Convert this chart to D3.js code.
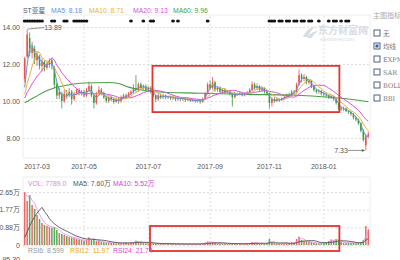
<!DOCTYPE html>
<html>
<head>
<meta charset="utf-8">
<script src="https://cdn.jsdelivr.net/npm/d3@7"></script>
<style>
body { margin: 0; background: #fff; }
svg text { font-family: "Liberation Sans", Arial, "Noto Sans CJK SC", sans-serif; }
</style>
</head>
<body>
<svg id="chart" width="400" height="260"></svg>
<script>

// candles (each one covers ~1.7 trading days): [open, high, low, close]
let candles = [
    [11.2,12.4,11.0,12.3],[12.4,13.89,12.3,13.6],[13.4,13.7,12.4,12.6],[12.6,13.2,12.3,12.9],
    [12.8,13.0,12.0,12.2],[12.2,12.7,11.9,12.5],[12.4,12.5,11.7,11.9],[11.9,12.3,11.6,12.1],
    [12.1,12.2,11.6,11.8],[11.8,12.2,11.7,12.0],[12.0,12.3,11.8,12.2],[12.2,12.3,11.7,11.9],
    [11.8,11.9,10.7,10.9],[10.9,11.0,10.1,10.3],[10.3,10.7,10.1,10.5],[10.4,10.5,9.6,10.0],
    [10.0,10.6,9.9,10.4],[10.4,10.6,10.1,10.3],[10.3,10.7,10.2,10.5],[10.5,10.6,9.8,10.1],
    [10.1,10.5,10.0,10.4],[10.4,10.7,10.3,10.6],[10.6,10.7,10.3,10.4],[10.4,10.6,10.3,10.5],
    [10.5,10.6,10.2,10.3],[10.3,10.7,10.2,10.6],[10.6,11.05,10.5,10.8],[10.8,10.9,10.2,10.3],
    [10.3,10.4,9.6,9.9],[9.9,10.5,9.8,10.4],[10.4,10.8,10.3,10.6],[10.6,10.7,10.3,10.4],
    [10.4,10.5,10.1,10.2],[10.2,10.3,9.9,10.0],[10.0,10.3,9.9,10.2],[10.2,10.3,10.0,10.1],
    [10.1,10.2,9.85,9.95],[9.95,10.2,9.9,10.1],[10.1,10.2,9.85,10.0],[10.0,10.3,9.9,10.2],
    [10.2,10.4,10.1,10.3],[10.3,10.4,10.1,10.2],[10.2,10.5,10.2,10.4],[10.4,10.6,10.3,10.5],
    [10.5,10.9,10.4,10.7],[10.7,11.4,10.5,10.6],[10.6,11.0,10.5,10.9],[10.9,11.0,10.6,10.7],
    [10.7,10.9,10.6,10.8],[10.8,10.9,10.5,10.6],[10.6,10.8,10.5,10.7],[10.7,10.8,10.4,10.5],
    [10.5,10.6,10.2,10.3],[10.3,10.35,9.95,10.1],[10.1,10.4,10.0,10.3],[10.3,10.4,10.1,10.2],
    [10.2,10.4,10.1,10.3],[10.3,10.35,10.1,10.2],[10.2,10.3,10.1,10.25],[10.25,10.3,10.05,10.15],
    [10.15,10.3,10.05,10.2],[10.2,10.25,10.0,10.1],[10.1,10.25,10.0,10.15],[10.15,10.2,10.0,10.1],
    [10.1,10.2,10.0,10.15],[10.15,10.2,9.95,10.05],[10.05,10.2,10.0,10.1],[10.1,10.15,9.95,10.0],
    [10.0,10.1,9.95,10.05],[10.05,10.1,9.9,10.0],[10.0,10.1,9.9,10.05],[10.05,10.1,9.85,9.95],
    [9.95,10.2,9.9,10.1],[10.1,10.5,10.05,10.4],[10.4,11.0,10.35,10.9],[10.9,11.1,10.6,10.7],
    [10.7,11.3,10.6,11.0],[11.0,11.1,10.5,10.6],[10.6,10.8,10.5,10.7],[10.7,10.8,10.4,10.5],
    [10.5,10.7,10.4,10.6],[10.6,10.7,10.4,10.45],[10.45,10.6,10.4,10.5],[10.5,10.55,10.3,10.4],
    [10.4,10.45,9.7,10.2],[10.2,10.5,10.15,10.4],[10.4,10.45,10.3,10.35],[10.35,10.5,10.3,10.4],
    [10.4,10.45,10.25,10.3],[10.3,10.45,10.25,10.4],[10.4,10.55,10.35,10.45],[10.45,10.7,10.4,10.6],
    [10.6,11.05,10.55,10.9],[10.9,11.0,10.6,10.7],[10.7,10.95,10.6,10.8],[10.8,10.85,10.5,10.6],
    [10.6,10.8,10.5,10.7],[10.7,10.75,10.4,10.5],[10.5,10.55,10.3,10.4],[10.4,10.45,9.6,9.9],
    [9.9,10.2,9.7,10.1],[10.1,10.2,9.9,10.0],[10.0,10.2,9.95,10.1],[10.1,10.15,9.95,10.05],
    [10.05,10.2,10.0,10.15],[10.15,10.3,10.1,10.2],[10.2,10.4,10.15,10.35],[10.35,10.45,10.2,10.3],
    [10.3,10.6,10.25,10.5],[10.5,10.6,10.4,10.45],[10.45,11.0,10.4,10.9],[10.9,11.7,10.85,11.4],
    [11.4,11.5,11.0,11.2],[11.2,11.45,11.05,11.3],[11.3,11.35,10.9,11.0],[11.0,11.2,10.9,11.1],
    [11.1,11.15,10.7,10.8],[10.8,10.85,10.5,10.6],[10.6,10.65,10.4,10.5],[10.5,10.65,10.4,10.55],
    [10.55,10.6,10.3,10.4],[10.4,10.5,10.25,10.35],[10.35,10.45,10.2,10.3],[10.3,10.35,10.1,10.2],
    [10.2,10.3,10.1,10.25],[10.25,10.3,10.0,10.1],[10.1,10.15,9.8,9.9],[9.9,9.95,9.5,9.6],
    [9.6,9.7,9.45,9.55],[9.55,9.7,9.45,9.6],[9.6,9.65,9.4,9.45],[9.45,9.5,9.3,9.4],
    [9.4,9.45,9.2,9.3],[9.3,9.35,9.0,9.1],[9.1,9.2,8.9,9.0],[9.0,9.05,8.7,8.8],
    [8.8,8.85,8.3,8.4],[8.4,8.45,7.8,7.9],[7.6,8.2,7.33,8.1],[8.1,8.35,8.0,8.2]
]

// closes before the visible window (used to warm up the moving averages)
let preCloses = [9.9,9.95,10.0,9.9,9.95,10.0,10.05,10.0,9.95,9.9,10.0]

// volume in 万
let volumes = [
    2.65,2.2,2.5,2.0,1.8,1.5,1.3,1.1,1.0,0.95,0.9,0.85,
    0.9,0.75,0.6,0.55,0.5,0.45,0.4,0.38,0.35,0.3,0.28,0.25,
    0.22,0.25,0.38,0.25,0.3,0.2,0.2,0.15,0.14,0.12,0.12,0.1,
    0.1,0.09,0.1,0.09,0.1,0.12,0.1,0.12,0.15,0.22,0.15,0.12,
    0.1,0.09,0.08,0.08,0.07,0.08,0.07,0.06,0.06,0.07,0.06,0.06,
    0.05,0.06,0.05,0.05,0.06,0.05,0.05,0.06,0.05,0.05,0.06,0.05,
    0.07,0.12,0.18,0.12,0.15,0.1,0.08,0.07,0.07,0.06,0.06,0.06,
    0.1,0.07,0.06,0.06,0.05,0.06,0.07,0.1,0.15,0.1,0.08,0.07,
    0.07,0.06,0.08,0.3,0.12,0.08,0.07,0.06,0.07,0.08,0.1,0.09,
    0.12,0.1,0.3,0.42,0.25,0.2,0.18,0.15,0.14,0.1,0.09,0.08,
    0.08,0.1,0.15,0.2,0.28,0.22,0.3,0.25,0.15,0.12,0.1,0.12,
    0.1,0.12,0.1,0.12,0.15,0.25,0.95,0.78
]
let preVolumes = [0.05,0.05,0.04,0.05,0.05,0.04,0.05,0.05,0.05]

// MA60: [candle index, value]
let ma60Points = [[0,9.9],[4,10.2],[8,10.5],[12,10.7],[17,10.85],[24,10.97],[34,11.0],[38,10.95],
    [42,10.75],[47,10.6],[52,10.5],[71,10.42],[90,10.36],[112,10.3],[128,10.15],[139,9.96]]

let tickIdx = [5, 24, 50, 75, 99, 121]
let tickLabels = ["2017-03", "2017-05", "2017-07", "2017-09", "2017-11", "2018-01"]
let priceTicks = [8, 10, 12, 14]
let volTicks = [0, 0.88, 1.77, 2.65]

// event markers along the top (candle indices)
let eventIdx = [0,1,2,3,4,5,6,7,11,12,16,17,20,21,22,23,24,25,43,48,51,52,60,62,74,
    99,100,101,103,104,106,107,109,110,112,113,115,116,119,123,125,126,128,130,131]

let indicators = ["无", "均线", "EXPMA", "SAR", "BOLL", "BBI"]

let upColor = "#e8504a", downColor = "#3a9a3a"
let maColors = {ma5: "#6b8fdc", ma10: "#eab23c", ma20: "#e04ee0", ma60: "#48a048"}


// 5/10/20-day windows expressed in candles (~1.7 days per candle)
function movingAvg(values, pre, n) {
    let all = pre.concat(values)
    let out = []
    for(let i = pre.length; i < all.length; i++) {
        let start = Math.max(0, i - n + 1)
        let sum = 0
        for(let j = start; j <= i; j++) sum += all[j]
        out.push(sum / (i - start + 1))
    }
    return out
}

let svg = d3.select("#chart")
let left = 23, right = 370
let pTop = 15, pBottom = 158
let vTop = 177, vBottom = 247

let x = d3.scaleBand().domain(d3.range(candles.length)).range([left, right]).padding(0.38)
let cx = i => x(i) + x.bandwidth() / 2
let y = d3.scaleLinear().domain([8, 14]).range([138, 27])
let yv = d3.scaleLinear().domain([0, 2.65]).range([245, 192])

svg.append("defs").append("clipPath").attr("id", "clipMain")
    .append("rect").attr("x", left).attr("y", pTop).attr("width", right - left).attr("height", pBottom - pTop)

// panel frames
svg.append("rect").attr("x", left).attr("y", pTop).attr("width", right - left).attr("height", pBottom - pTop)
    .attr("fill", "none").attr("stroke", "#eeeeee")
svg.append("rect").attr("x", left).attr("y", vTop).attr("width", right - left).attr("height", vBottom - vTop)
    .attr("fill", "none").attr("stroke", "#eeeeee")

function styleGrid(g) {
    g.select(".domain").remove()
    g.selectAll(".tick line").attr("stroke", "#dedede").attr("stroke-dasharray", "2,2")
    g.selectAll(".tick text").attr("fill", "#555").attr("font-size", 7)
}

// price grid + labels
svg.append("g").attr("transform", "translate(" + left + ",0)")
    .call(d3.axisLeft(y).tickValues(priceTicks).tickSize(-(right - left)).tickPadding(3).tickFormat(d3.format(".2f")))
    .call(styleGrid)

// date grid + labels
svg.append("g").attr("transform", "translate(0," + pBottom + ")")
    .call(d3.axisBottom(x).tickValues(tickIdx).tickSize(-(pBottom - pTop)).tickPadding(6)
        .tickFormat((d, i) => tickLabels[i]))
    .call(styleGrid)
    .selectAll(".tick line").attr("opacity", (d, i) => i == 0 ? 0 : 1)

// volume grids
svg.append("g").attr("transform", "translate(" + left + ",0)")
    .call(d3.axisLeft(yv).tickValues(volTicks).tickSize(-(right - left)).tickPadding(3)
        .tickFormat(d => d == 0 ? "0" : d.toFixed(2) + "万"))
    .call(styleGrid)
svg.append("g").attr("transform", "translate(0," + vBottom + ")")
    .call(d3.axisBottom(x).tickValues(tickIdx.slice(1)).tickSize(-(vBottom - vTop)).tickFormat(""))
    .call(styleGrid)

// event markers
svg.append("g").selectAll("ellipse")
    .data(eventIdx).enter()
    .append("ellipse")
    .attr("cx", d => cx(d)).attr("cy", 21)
    .attr("rx", 1.9).attr("ry", 1.6)
    .attr("fill", "#111")

// candles
let main = svg.append("g").attr("clip-path", "url(#clipMain)")
let cg = main.selectAll("g.candle")
    .data(candles).enter()
    .append("g")
    .attr("class", "candle")
let colorOf = d => d[3] >= d[0] ? upColor : downColor
cg.append("line")
    .attr("x1", (d, i) => cx(i)).attr("x2", (d, i) => cx(i))
    .attr("y1", d => y(d[1])).attr("y2", d => y(d[2]))
    .attr("stroke", colorOf).attr("stroke-width", 0.8)
cg.append("rect")
    .attr("x", (d, i) => x(i)).attr("width", x.bandwidth())
    .attr("y", d => y(Math.max(d[0], d[3])))
    .attr("height", d => Math.max(0.8, Math.abs(y(d[0]) - y(d[3]))))
    .attr("fill", colorOf)

// moving averages
let closes = candles.map(d => d[3])
let line = d3.line().x((d, i) => cx(i)).y(d => y(d))
let maSeries = [
    [movingAvg(closes, preCloses, 12), maColors.ma20],
    [movingAvg(closes, preCloses, 6), maColors.ma10],
    [movingAvg(closes, preCloses, 3), maColors.ma5]
]
main.append("path")
    .datum(ma60Points)
    .attr("d", d3.line().x(d => cx(d[0])).y(d => y(d[1])).curve(d3.curveMonotoneX))
    .attr("fill", "none").attr("stroke", maColors.ma60).attr("stroke-width", 1.1)
for(let s of maSeries) {
    main.append("path").datum(s[0]).attr("d", line)
        .attr("fill", "none").attr("stroke", s[1]).attr("stroke-width", 1)
}

// high / low labels
let hiIdx = d3.maxIndex(candles, d => d[1])
let loIdx = d3.minIndex(candles, d => d[2])
let hi = candles[hiIdx][1], lo = candles[loIdx][2]
svg.append("line").attr("x1", cx(hiIdx) + 1).attr("x2", cx(hiIdx) + 17)
    .attr("y1", y(hi)).attr("y2", y(hi) - 1.5).attr("stroke", "#666").attr("stroke-width", 0.7)
svg.append("text").attr("x", cx(hiIdx) + 17).attr("y", y(hi) + 1)
    .attr("font-size", 7).attr("fill", "#555").text(hi.toFixed(2))
svg.append("line").attr("x1", cx(loIdx) - 18).attr("x2", cx(loIdx) - 1)
    .attr("y1", y(lo)).attr("y2", y(lo)).attr("stroke", "#666").attr("stroke-width", 0.7)
svg.append("path")
    .attr("d", "M" + (cx(loIdx) - 1) + "," + y(lo) + "l-3,-1.5l0,3z").attr("fill", "#666")
svg.append("text").attr("x", cx(loIdx) - 18).attr("y", y(lo) + 2.5).attr("text-anchor", "end")
    .attr("font-size", 7).attr("fill", "#555").text(lo.toFixed(2))

// volume bars
svg.append("g").selectAll("rect")
    .data(volumes).enter()
    .append("rect")
    .attr("x", (d, i) => x(i)).attr("width", x.bandwidth())
    .attr("y", d => yv(d)).attr("height", d => yv(0) - yv(d))
    .attr("fill", (d, i) => colorOf(candles[i]))
    .attr("opacity", 0.85)
let vline = d3.line().x((d, i) => cx(i)).y(d => yv(d))
svg.append("path").datum(movingAvg(volumes, [], 3)).attr("d", vline)
    .attr("fill", "none").attr("stroke", "#f08cf0").attr("stroke-width", 0.9)
svg.append("path").datum(movingAvg(volumes, preVolumes, 8)).attr("d", vline)
    .attr("fill", "none").attr("stroke", "#555").attr("stroke-width", 0.9)

// red highlight boxes
svg.append("rect")
    .attr("x", x(52)).attr("y", y(11.9))
    .attr("width", x(127) + x.bandwidth() - x(52)).attr("height", y(9.4) - y(11.9))
    .attr("fill", "none").attr("stroke", "#e3342f").attr("stroke-width", 1.8)
svg.append("rect")
    .attr("x", x(51)).attr("y", yv(0.95))
    .attr("width", x(127) + x.bandwidth() - x(51)).attr("height", yv(-0.3) - yv(0.95))
    .attr("fill", "none").attr("stroke", "#e3342f").attr("stroke-width", 1.8)

// legends
function legend(items, yPos) {
    let t = svg.append("text").attr("y", yPos).attr("font-size", 6.8)
    for(let it of items) {
        t.append("tspan").attr("x", it[0]).attr("fill", it[2]).text(it[1])
    }
}
legend([[23, "ST亚星", "#555"], [51, "MA5: 8.18", maColors.ma5], [89, "MA10: 8.71", maColors.ma10],
    [133, "MA20: 9.13", maColors.ma20], [173, "MA60: 9.96", maColors.ma60]], 12.5)
legend([[28, "VOL: 7789.0", "#e67ee6"], [73, "MA5: 7.60万", "#555"], [113, "MA10: 5.52万", "#d442d4"]], 185.5)
legend([[28, "RSI6: 8.599", "#999"], [70, "RSI12: 11.97", "#e8a820"], [113, "RSI24: 21.74", "#d44cd4"]], 252.5)
svg.append("text").attr("x", 20).attr("y", 262).attr("text-anchor", "end")
    .attr("font-size", 7).attr("fill", "#555").text("95.30")

// watermark
let wm = svg.append("g").attr("fill", "#d8dde4")
wm.append("path").attr("d", "M303,37 C306,30 311,27 316,26 C312,29 309,33 308,37 Z")
wm.append("path").attr("d", "M307,38 C310,33 314,31 318,31 C315,33 313,35 312,38 Z")
wm.append("text").attr("x", 318).attr("y", 34).attr("font-size", 10).attr("font-weight", "bold")
    .style("font-family", "'Noto Sans CJK SC'").text("东方财富网")
wm.append("text").attr("x", 320).attr("y", 40.5).attr("font-size", 5).text("eastmoney.com")

// indicator selector
svg.append("text").attr("x", 373).attr("y", 18).attr("font-size", 7).attr("fill", "#aaa")
    .style("font-family", "'Noto Sans CJK SC'").text("主图指标")
let opt = svg.append("g").selectAll("g")
    .data(indicators).enter()
    .append("g")
    .attr("transform", (d, i) => "translate(374," + (33 + i * 13) + ")")
opt.append("rect").attr("x", 0).attr("y", -3).attr("width", 6).attr("height", 6)
    .attr("fill", "#fff").attr("stroke", "#3d5178").attr("stroke-width", 0.9)
opt.filter((d, i) => i == 1).append("rect").attr("x", 1.5).attr("y", -1.5).attr("width", 3).attr("height", 3)
    .attr("fill", "#3d5faa")
opt.append("text").attr("x", 9).attr("y", 2.5).attr("font-size", 6.5).attr("fill", "#777")
    .style("font-family", "'DejaVu Serif', 'Noto Sans CJK SC'").text(d => d)

</script>
</body>
</html>
